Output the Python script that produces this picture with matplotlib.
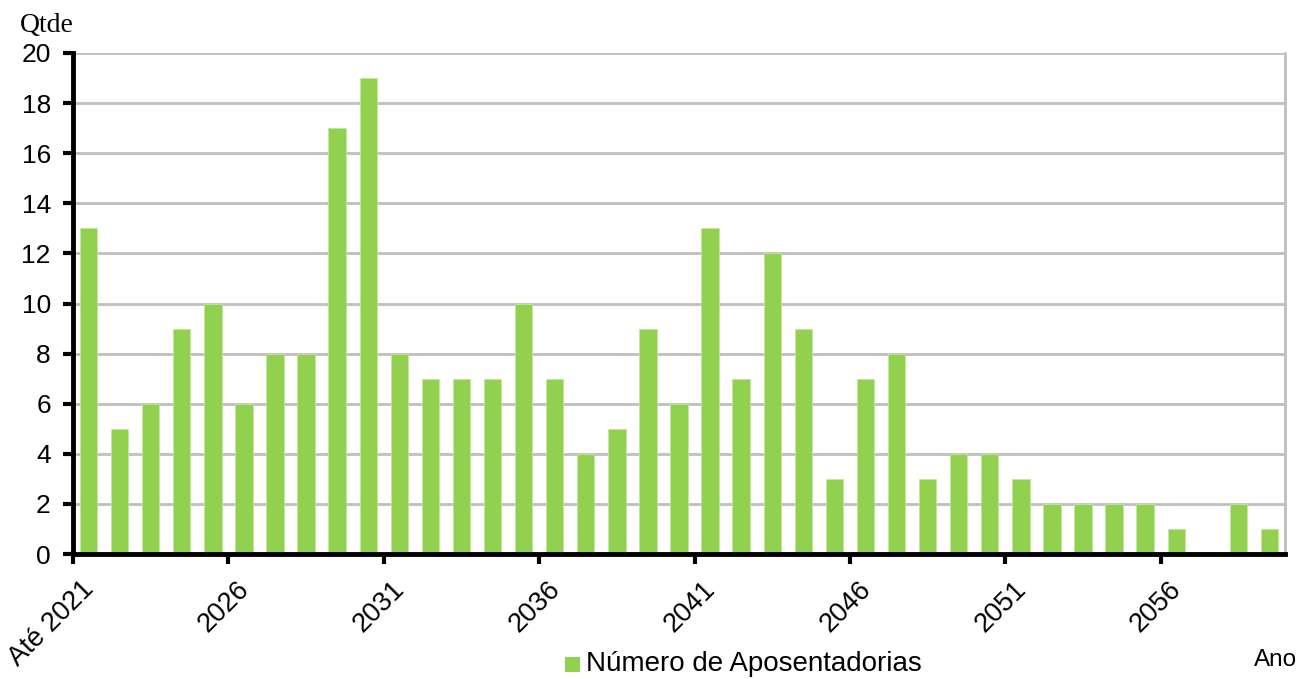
import matplotlib
matplotlib.use("Agg")
import matplotlib.pyplot as plt
from matplotlib.transforms import ScaledTranslation
from matplotlib.patches import Rectangle

years = ["Até 2021"] + [str(y) for y in range(2022, 2060)]
values = [13, 5, 6, 9, 10, 6, 8, 8, 17, 19,
          8, 7, 7, 7, 10, 7, 4, 5, 9, 6,
          13, 7, 12, 9, 3, 7, 8, 3, 4, 4,
          3, 2, 2, 2, 2, 1, 0, 2, 1]
series_name = "Número de Aposentadorias"
y_ticks = list(range(0, 21, 2))

plt.rcParams['font.family'] = ['Liberation Sans', 'DejaVu Sans']

fig = plt.figure(figsize=(13, 6.79), dpi=100)
ax = fig.add_axes([73/1300, 1-554/679, (1285-73)/1300, (554-53)/679])

x = list(range(len(values)))
ax.bar(x, values, width=0.56, color='#92D050', edgecolor='#C4E59A', linewidth=0.6, zorder=3)

ax.set_xlim(-0.5, len(values) - 0.5)
ax.set_ylim(0, 20)
ax.set_yticks(y_ticks)
ax.set_yticklabels([str(v) for v in y_ticks], fontsize=19)
ax.yaxis.grid(True, color='#BFBFBF', linewidth=2, zorder=0)

tick_idx = list(range(0, len(values), 5))
ax.set_xticks([i - 0.5 for i in tick_idx])
ax.set_xticklabels([])
trans = ax.get_xaxis_transform() + ScaledTranslation(17/100, -31/100, fig.dpi_scale_trans)
for i in tick_idx:
    ax.text(i - 0.5, 0, years[i], transform=trans, rotation=45, rotation_mode='anchor',
            ha='right', va='center', fontsize=19.5)

ax.tick_params(axis='both', direction='out', length=7, width=3, color='black')
ax.tick_params(axis='y', pad=9)

for s in ['left', 'bottom']:
    ax.spines[s].set_linewidth(3.5)
    ax.spines[s].set_color('black')
    ax.spines[s].set_zorder(5)
ax.spines['right'].set_color('#BFBFBF')
ax.spines['right'].set_linewidth(2)
ax.spines['top'].set_visible(False)

fig.text(20/1300, 1-26/679, "Qtde", family=['Liberation Serif'], fontsize=20, va='center', ha='left')
fig.text(1297/1300, 1-660/679, "Ano", fontsize=17.5, va='center', ha='right')

# legend
fig.patches.append(Rectangle((565/1300, 1-672/679), 15/1300, 15/679, transform=fig.transFigure,
                             facecolor='#92D050', edgecolor='none'))
fig.text(586/1300, 1-664/679, series_name, fontsize=20, va='center', ha='left')

fig.savefig("out.png", dpi=100)
